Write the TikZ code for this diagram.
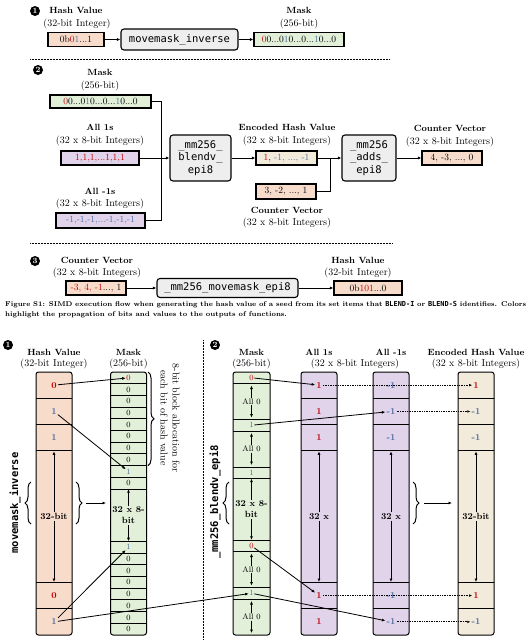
\documentclass[tikz,border=0pt]{standalone}
\usepackage{fontspec}
\setmonofont{DejaVu Sans Mono}
\usetikzlibrary{arrows.meta,decorations.pathreplacing}
\definecolor{peach}{HTML}{F8DCCB}
\definecolor{mint}{HTML}{E2EFD9}
\definecolor{lilac}{HTML}{E1D3EA}
\definecolor{sand}{HTML}{F2EADA}
\definecolor{fngray}{HTML}{EEEEEE}
\definecolor{bitred}{HTML}{C00000}
\definecolor{bitblue}{HTML}{4C6C9E}
\newcommand{\rd}[1]{\textcolor{bitred}{#1}}
\newcommand{\bl}[1]{\textcolor{bitblue}{#1}}
\begin{document}
\begin{tikzpicture}[x=1pt,y=-1pt,
  valbox/.style={draw, line width=1.1pt, minimum height=14pt, inner sep=0pt, font=\fontsize{9.5}{11}\selectfont},
  fnbox/.style={draw, line width=1.1pt, rounded corners=3pt, fill=fngray, align=center, inner sep=0pt, font=\ttfamily\fontsize{10.5}{12.5}\selectfont},
  head/.style={inner sep=0pt, font=\bfseries\fontsize{9}{10}\selectfont},
  sub/.style={inner sep=0pt, font=\fontsize{10}{11}\selectfont},
  badge/.style={circle, fill=black, text=white, inner sep=0pt, minimum size=10pt, font=\bfseries\fontsize{8}{8}\selectfont},
  link/.style={-{Latex[length=3.5pt,width=3pt]}, line width=0.8pt},
  dots/.style={-{Latex[length=3pt,width=2.6pt]}, line width=0.8pt, dash pattern=on 0.8pt off 0.9pt},
  wire/.style={line width=0.9pt},
  sep/.style={line width=0.6pt, dash pattern=on 0.6pt off 0.9pt},
  col/.style={draw, line width=1pt, rounded corners=2.5pt},
  cell/.style={inner sep=1pt, font=\bfseries\fontsize{9}{10}\selectfont},
  bit/.style={inner sep=0.5pt, font=\fontsize{8}{9}\selectfont},
  big/.style={inner sep=1pt, align=center, font=\bfseries\fontsize{9}{11}\selectfont},
  brc/.style={decorate, decoration={brace, amplitude=6pt}, line width=1pt}
]
\useasboundingbox (0,0) rectangle (531,640);

% part 1
\node[badge] (n1) at (35,11) {1};
\node[head] (hvh) at (76,10) {Hash Value};
\node[sub] (hvs) at (77,24) {(32-bit Integer)};
\node[valbox, fill=peach, minimum width=56pt] (hv) at (76,39.5) {0b\rd{0}\bl{1}...1};
\node[fnbox, minimum width=117pt, minimum height=21pt] (inv) at (179.5,39.5) {movemask\_inverse};
\node[head] (mkh) at (299,10) {Mask};
\node[sub] (mks) at (299,24) {(256-bit)};
\node[valbox, fill=mint, minimum width=90pt] (mk) at (299,39.5) {\rd{0}0...0\bl{1}0...0...\bl{1}0...0};
\draw[link] (hv) -- (inv);
\draw[link] (inv) -- (mk);
\draw[sep] (30,59.5) -- (390,59.5);

% part 2
\node[badge] (n2) at (38,70) {2};
\node[head] at (100,72) {Mask};
\node[sub] at (100,86) {(256-bit)};
\node[valbox, fill=mint, minimum width=101pt, minimum height=13pt] (mk2) at (100.5,101.5) {\rd{0}0...0\bl{1}0...0...\bl{1}0...0};
\node[head] at (100,127) {All 1s};
\node[sub] at (100,141) {(32 x 8-bit Integers)};
\node[valbox, fill=lilac, minimum width=78pt] (ones) at (100,158) {\rd{1,1,1,...1,1,1}};
\node[head] at (100,191) {All -1s};
\node[sub] at (100,204) {(32 x 8-bit Integers)};
\node[valbox, fill=lilac, minimum width=89pt, minimum height=15pt] (negs) at (100.5,220.5) {\bl{-1,-1,-1,...-1,-1,-1}};
\node[fnbox, minimum width=61pt, minimum height=46pt] (blend) at (200.5,158) {\_mm256\_\\blendv\_\\epi8};
\coordinate (j1) at (161,158);
\draw[link] (ones) -- (blend);
\draw[wire] (mk2.east) -| (j1);
\draw[wire] (negs.east) -| (j1);

\node[head] at (287,127) {Encoded Hash Value};
\node[sub] at (287,141) {(32 x 8-bit Integers)};
\node[valbox, fill=sand, minimum width=61pt] (encv) at (286.5,158) {\rd{1}, \bl{-1, ..., -1}};
\node[valbox, fill=peach, minimum width=60pt, minimum height=15pt] (cin) at (286,191.5) {3, -2, ..., 1};
\node[head] at (287,210) {Counter Vector};
\node[sub] at (287,223) {(32 x 8-bit Integers)};
\node[fnbox, minimum width=54pt, minimum height=46pt] (adds) at (369,158) {\_mm256\\\_adds\_\\epi8};
\coordinate (j2) at (330,158);
\draw[link] (blend) -- (encv);
\draw[link] (encv) -- (adds);
\draw[wire] (cin.east) -| (j2);
\node[head] at (450,128) {Counter Vector};
\node[sub] at (450,142) {(32 x 8-bit Integers)};
\node[valbox, fill=peach, minimum width=60pt] (cout) at (452,158) {4, -3, ..., 0};
\draw[link] (adds) -- (cout);
\draw[sep] (30,243) -- (392,243);

% part 3
\node[badge] (n3) at (35,261) {3};
\node[head] at (97,260) {Counter Vector};
\node[sub] at (97,273) {(32 x 8-bit Integers)};
\node[valbox, fill=peach, minimum width=60pt] (cv3) at (96,288) {\rd{-3, 4, -1}..., 1};
\node[fnbox, minimum width=141pt, minimum height=19pt] (mme) at (227.5,288) {\_mm256\_movemask\_epi8};
\node[head] at (358,260) {Hash Value};
\node[sub] at (358,273) {(32-bit Integer)};
\node[valbox, fill=peach, minimum width=68pt] (hvout) at (368,288) {0b\rd{101}...0};
\draw[link] (cv3) -- (mme);
\draw[link] (mme) -- (hvout);

% caption
\node[anchor=west, inner sep=0pt, font=\bfseries\fontsize{6.9}{8}\selectfont] (cap1) at (5,305)
  {\makebox[521pt][s]{Figure S1: SIMD execution flow when generating the hash value of a seed from its set items that \texttt{BLEND-I} or \texttt{BLEND-S} identifies. Colors}};
\node[anchor=west, inner sep=0pt, font=\bfseries\fontsize{6.9}{8}\selectfont] (cap2) at (5,315)
  {highlight the propagation of bits and values to the outputs of functions.};

% detail: movemask_inverse
\node[badge] (n4) at (8,345) {1};
\node[head] at (54,352) {Hash Value};
\node[sub] at (54,364) {(32-bit Integer)};
\node[head] at (128.5,352) {Mask};
\node[sub] at (128.5,364) {(256-bit)};
\foreach \cx/\clr in {54/peach, 319/lilac, 391/lilac, 476/sand} {
  \draw[col, fill=\clr] (\cx-18,372) rectangle (\cx+18,635);
  \foreach \cy in {398.3,424.6,450.9,582.4,608.7}
    \draw[wire] (\cx-18,\cy) -- (\cx+18,\cy);
}
\node[cell, text=bitred] (hb1) at (54,385.15) {0};
\node[cell, text=bitblue] (hb2) at (54,411.45) {1};
\node[cell, text=bitblue] (hb3) at (54,437.75) {1};
\node[cell, text=bitred] (hb5) at (54,595.55) {0};
\node[cell, text=bitblue] (hb6) at (54,621.85) {1};
\foreach \k/\cy in {1/385.15,2/411.45,3/437.75,5/595.55,6/621.85} {
  \node[cell, text=bitred] (one\k) at (319,\cy) {1};
  \node[cell, text=bitblue] (neg\k) at (391,\cy) {-1};
}
\node[cell, text=bitred] (enc1) at (476,385.15) {1};
\node[cell, text=bitblue] (enc2) at (476,411.45) {-1};
\node[cell, text=bitblue] (enc3) at (476,437.75) {-1};
\node[cell, text=bitred] (enc5) at (476,595.55) {1};
\node[cell, text=bitblue] (enc6) at (476,621.85) {-1};
\foreach \cx/\nm/\txt in {54/hbig/32-bit, 319/obig/32 x, 391/nbig/32 x, 476/ebig/32-bit} {
  \node[big] (\nm) at (\cx,516.65) {\txt};
  \draw[link] (\nm.north) -- (\cx,451.3);
  \draw[link] (\nm.south) -- (\cx,582);
}

\draw[col, fill=mint] (110.5,372) rectangle (146.5,635);
\foreach \k in {1,...,10} \draw[wire] (110.5,372+\k*11.7) -- (146.5,372+\k*11.7);
\foreach \k in {0,...,7} \draw[wire] (110.5,541.4+\k*11.7) -- (146.5,541.4+\k*11.7);
\node[bit, text=bitred] (ma0) at (128.5,377.85) {0};
\foreach \k in {1,...,7} \node[bit] (ma\k) at (128.5,377.85+\k*11.7) {0};
\node[bit, text=bitblue] (ma8) at (128.5,377.85+8*11.7) {1};
\node[bit] (ma9) at (128.5,377.85+9*11.7) {0};
\node[big] (mbig) at (128.5,515.2) {32 x 8-\\bit};
\draw[link] (mbig.north) -- (128.5,489.2);
\draw[link] (mbig.south) -- (128.5,541.2);
\node[bit, text=bitblue] (mb0) at (128.5,547.25) {1};
\foreach \k in {1,...,7} \node[bit] (mb\k) at (128.5,547.25+\k*11.7) {0};

\draw[brc] (31,524) -- (31,482);
\draw[brc] (76,482) -- (76,524);
\coordinate (bk1) at (86,503);
\coordinate (bk2) at (106,503);
\draw[link] (bk1) -- (bk2);
\draw[brc] (148,372) -- (148,465.6);
\node[rotate=-90, align=center, inner sep=0pt, font=\fontsize{10}{12}\selectfont] (blk) at (170,418) {8-bit block allocation for\\each bit of hash value};
\node[rotate=90, inner sep=0pt, font=\ttfamily\bfseries\fontsize{10.5}{12}\selectfont] (lblinv) at (15,503) {movemask\_inverse};

\draw[link] (hb1) -- (ma0);
\draw[link] (hb2) -- (ma8);
\draw[link] (hb6) -- (mb0);

\draw[sep] (203,340) -- (203,640);

% detail: _mm256_blendv_epi8
\node[badge] (n5) at (215,345) {2};
\node[rotate=90, inner sep=0pt, font=\ttfamily\bfseries\fontsize{10.5}{12}\selectfont] (lblbl) at (215,502) {\_mm256\_blendv\_epi8};
\node[head] at (251.5,352) {Mask};
\node[sub] at (251.5,364) {(256-bit)};
\node[head] at (319,352) {All 1s};
\node[head] at (391,352) {All -1s};
\node[sub] at (355,364) {(32 x 8-bit Integers)};
\node[head] at (476,352) {Encoded Hash Value};
\node[sub] at (476,364) {(32 x 8-bit Integers)};

\draw[col, fill=mint] (233,372) rectangle (270,635);
\foreach \cy in {383.5,419.5,431,467,478.5,540,551.5,587.5,599} \draw[wire] (233,\cy) -- (270,\cy);
\node[bit, text=bitred] (ra0) at (251.5,377.75) {0};
\node[bit] (ra1) at (251.5,401.5) {All 0};
\node[bit, text=bitblue] (ra2) at (251.5,425.25) {1};
\node[bit] (ra3) at (251.5,449) {All 0};
\node[bit, text=bitblue] (ra4) at (251.5,472.75) {1};
\node[big] (rbig) at (251.5,509.25) {32 x 8-\\bit};
\draw[link] (rbig.north) -- (251.5,478.7);
\draw[link] (rbig.south) -- (251.5,539.8);
\node[bit, text=bitred] (rb0) at (251.5,545.75) {0};
\node[bit] (rb1) at (251.5,569.5) {All 0};
\node[bit, text=bitblue] (rb2) at (251.5,593.25) {1};
\node[bit] (rb3) at (251.5,617) {All 0};
\foreach \nm/\tp/\bt in {ra1/383.5/419.5, ra3/431/467, rb1/551.5/587.5, rb3/599/635} {
  \draw[link, shorten >=2pt] (\nm.north) -- (251.5,\tp);
  \draw[link, shorten >=2pt] (\nm.south) -- (251.5,\bt);
}

\draw[brc] (229,524) -- (229,482);
\draw[brc] (413,482) -- (413,524);
\coordinate (bk3) at (424,503);
\coordinate (bk4) at (452,503);
\draw[link] (bk3) -- (bk4);

\draw[link] (hb6) -- (rb2);
\draw[link] (ra0) -- (one1);
\draw[link] (ra2) -- (neg2);
\draw[link] (rb0) -- (one5);
\draw[link] (rb2) -- (neg6);
\draw[dots] (one1) -- (enc1);
\draw[dots] (neg2) -- (enc2);
\draw[dots] (one5) -- (enc5);
\draw[dots] (neg6) -- (enc6);
\end{tikzpicture}
\end{document}
